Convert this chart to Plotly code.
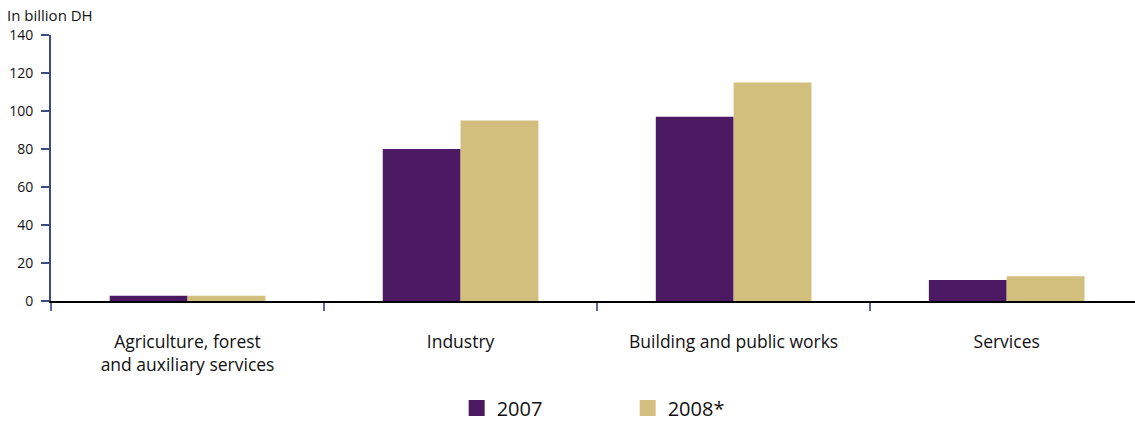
import plotly.graph_objects as go

# Sector values, in billion DH
categories = ["Agriculture, forest<br>and auxiliary services", "Industry",
              "Building and public works", "Services"]
values_2007 = [2.8, 80, 97, 11]
values_2008 = [2.8, 95, 115, 13]
series_names = ["2007", "2008*"]
y_ticks = [0, 20, 40, 60, 80, 100, 120, 140]

PURPLE = "#4B1A62"
GOLD = "#D3BF7D"
AXIS_BLUE = "#3B4A80"
FONT = "Open Sans"

fig = go.Figure()
for name, vals, col in [(series_names[0], values_2007, PURPLE),
                        (series_names[1], values_2008, GOLD)]:
    fig.add_trace(go.Bar(x=categories, y=vals, marker_color=col,
                         marker_line_width=0, showlegend=False, name=name))
    # legend swatch
    fig.add_trace(go.Scatter(x=[None], y=[None], mode="markers", name=name,
                             marker=dict(symbol="square", size=17, color=col)))

fig.update_layout(
    width=1135, height=421,
    margin=dict(l=51, r=0, t=35, b=120, autoexpand=False),
    paper_bgcolor="white", plot_bgcolor="white",
    barmode="group", bargap=0.43, bargroupgap=0,
    font=dict(family=FONT, color="#111111"),
    legend=dict(orientation="h", x=0.532, xanchor="center",
                yref="container", y=1 - 408 / 421, yanchor="middle",
                font=dict(size=20), entrywidth=126, itemsizing="trace"),
    annotations=[dict(text="In billion DH", xref="paper", yref="paper",
                      x=-46 / 1084, y=1 + 8 / 266, xanchor="left",
                      yanchor="bottom", showarrow=False,
                      font=dict(size=15, color="#111111"))],
)
fig.update_xaxes(
    type="category", range=[-0.5, 3.47],
    showline=True, linecolor="black", linewidth=2,
    ticks="outside", tickson="boundaries", ticklen=8, tickwidth=2,
    tickcolor="#5A6A9A", ticklabelstandoff=24,
    tickfont=dict(size=17.5, family=FONT), showgrid=False,
)
fig.update_yaxes(
    range=[0, 140], tickvals=y_ticks,
    showline=True, linecolor=AXIS_BLUE, linewidth=2,
    ticks="outside", ticklen=8, tickwidth=2, tickcolor=AXIS_BLUE,
    ticklabelstandoff=5, tickfont=dict(size=14, family=FONT),
    showgrid=False, zeroline=False,
)

fig.write_html("out.html")
